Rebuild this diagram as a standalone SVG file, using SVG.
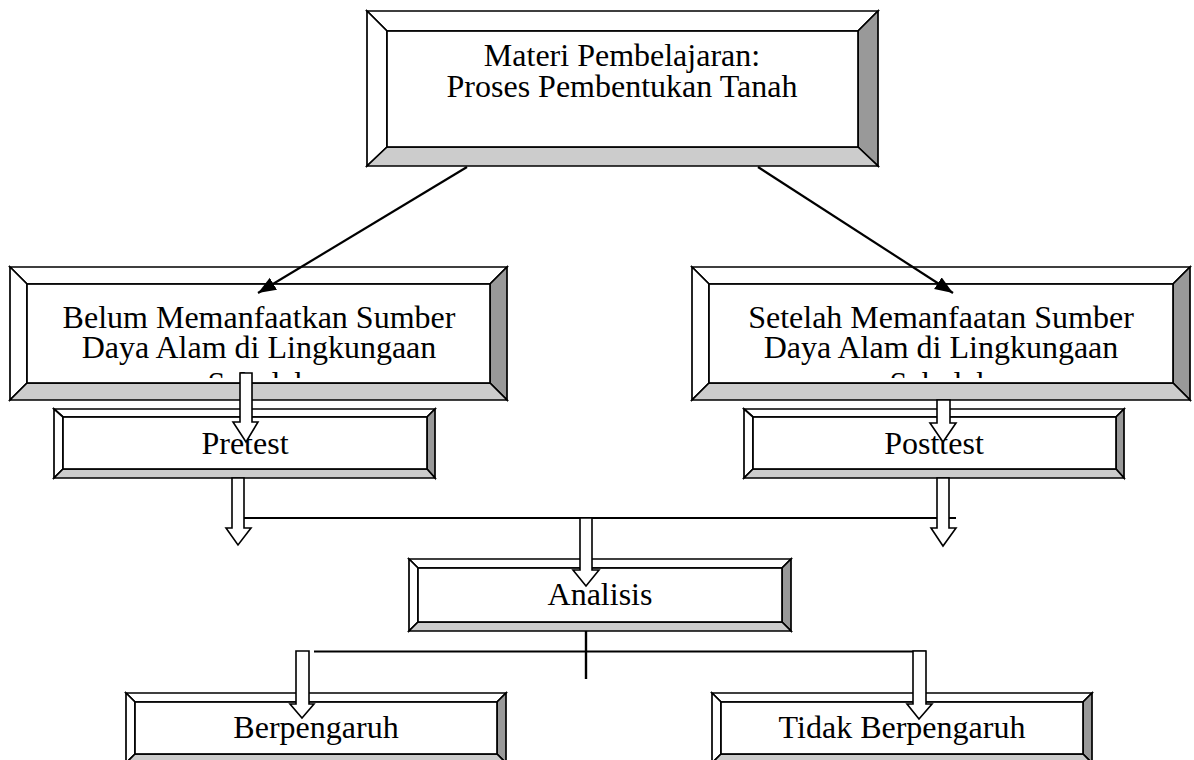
<svg xmlns="http://www.w3.org/2000/svg" width="1194" height="760" viewBox="0 0 1194 760">
<style>
.b{stroke:#000;stroke-width:1.7;stroke-linejoin:miter}
.w{fill:#fff}
.d{fill:#999}
.l{fill:#ccc}
.t{font-family:"Liberation Serif","Times New Roman",serif;font-size:32px;fill:#000;text-anchor:middle}
.c{stroke:#000;stroke-width:1.8;fill:none}
.ba{fill:#fff;stroke:#000;stroke-width:1.6;stroke-linejoin:miter}
</style>
<defs>
<marker id="ah" markerUnits="userSpaceOnUse" markerWidth="20" markerHeight="16" refX="18" refY="7" orient="auto">
<path d="M0,0 L18,7 L0,14 Z" fill="#000"/>
</marker>
<clipPath id="cl1"><rect x="27" y="284" width="463" height="94"/></clipPath>
<clipPath id="cl2"><rect x="709" y="284" width="464" height="94"/></clipPath>
</defs>
<rect width="1194" height="760" fill="#fff"/>

<g id="materi">
<polygon class="b w" points="367,11 878,11 858,31 387,31"/>
<polygon class="b w" points="367,11 387,31 387,147 367,166"/>
<polygon class="b d" points="878,11 878,166 858,147 858,31"/>
<polygon class="b l" points="367,166 878,166 858,147 387,147"/>
<rect class="b w" x="387" y="31" width="471" height="116"/>
<text class="t"><tspan x="622" y="66">Materi Pembelajaran:</tspan><tspan x="622" y="97">Proses Pembentukan Tanah</tspan></text>
</g>

<g id="belum">
<polygon class="b w" points="10,267 507,267 490,284 27,284"/>
<polygon class="b w" points="10,267 27,284 27,383 10,400"/>
<polygon class="b d" points="507,267 507,400 490,383 490,284"/>
<polygon class="b l" points="10,400 507,400 490,383 27,383"/>
<rect class="b w" x="27" y="284" width="463" height="99"/>
<text class="t" clip-path="url(#cl1)"><tspan x="259" y="328">Belum Memanfaatkan Sumber</tspan><tspan x="259" y="358">Daya Alam di Lingkungaan</tspan><tspan x="259" y="394">Sekolah</tspan></text>
</g>

<g id="setelah">
<polygon class="b w" points="692,267 1190,267 1173,284 709,284"/>
<polygon class="b w" points="692,267 709,284 709,383 692,400"/>
<polygon class="b d" points="1190,267 1190,400 1173,383 1173,284"/>
<polygon class="b l" points="692,400 1190,400 1173,383 709,383"/>
<rect class="b w" x="709" y="284" width="464" height="99"/>
<text class="t" clip-path="url(#cl2)"><tspan x="941" y="328">Setelah Memanfaatan Sumber</tspan><tspan x="941" y="358">Daya Alam di Lingkungaan</tspan><tspan x="941" y="394">Sekolah</tspan></text>
</g>

<g id="pretest">
<polygon class="b w" points="54,409 435,409 427,417 63,417"/>
<polygon class="b w" points="54,409 63,417 63,469 54,478"/>
<polygon class="b d" points="435,409 435,478 427,469 427,417"/>
<polygon class="b l" points="54,478 435,478 427,469 63,469"/>
<rect class="b w" x="63" y="417" width="364" height="52"/>
<text class="t" x="245" y="454">Pretest</text>
</g>

<g id="posttest">
<polygon class="b w" points="744,409 1124,409 1116,417 753,417"/>
<polygon class="b w" points="744,409 753,417 753,469 744,478"/>
<polygon class="b d" points="1124,409 1124,478 1116,469 1116,417"/>
<polygon class="b l" points="744,478 1124,478 1116,469 753,469"/>
<rect class="b w" x="753" y="417" width="363" height="52"/>
<text class="t" x="934" y="454">Posttest</text>
</g>

<g id="analisis">
<polygon class="b w" points="409,559 791,559 782,568 418,568"/>
<polygon class="b w" points="409,559 418,568 418,622 409,631"/>
<polygon class="b d" points="791,559 791,631 782,622 782,568"/>
<polygon class="b l" points="409,631 791,631 782,622 418,622"/>
<rect class="b w" x="418" y="568" width="364" height="54"/>
<text class="t" x="600" y="605">Analisis</text>
</g>

<g id="berpengaruh">
<polygon class="b w" points="126,693 506,693 497,702 135,702"/>
<polygon class="b w" points="126,693 135,702 135,754 126,763"/>
<polygon class="b d" points="506,693 506,763 497,754 497,702"/>
<polygon class="b l" points="126,763 506,763 497,754 135,754"/>
<rect class="b w" x="135" y="702" width="362" height="52"/>
<text class="t" x="316" y="738">Berpengaruh</text>
</g>

<g id="tidak">
<polygon class="b w" points="712,693 1092,693 1083,702 721,702"/>
<polygon class="b w" points="712,693 721,702 721,754 712,763"/>
<polygon class="b d" points="1092,693 1092,763 1083,754 1083,702"/>
<polygon class="b l" points="712,763 1092,763 1083,754 721,754"/>
<rect class="b w" x="721" y="702" width="362" height="52"/>
<text class="t" x="902" y="738">Tidak Berpengaruh</text>
</g>

<g id="connectors">
<line class="c" x1="467" y1="167" x2="258" y2="293" marker-end="url(#ah)" style="stroke-width:2.2"/>
<line class="c" x1="758" y1="167" x2="953" y2="293" marker-end="url(#ah)" style="stroke-width:2.2"/>
<line class="c" x1="244" y1="518" x2="956" y2="518"/>
<line class="c" x1="586" y1="631" x2="586" y2="679" style="stroke-width:2.4"/>
<line class="c" x1="314" y1="651.5" x2="926" y2="651.5"/>
<polygon class="ba" points="240,373 252,373 252,422 258,422 246,442 233,422 240,422"/>
<polygon class="ba" points="937,400 950,400 950,423 956,423 943,442 930,423 937,423"/>
<polygon class="ba" points="232,478 244,478 244,528 251,528 238,545 226,528 232,528"/>
<polygon class="ba" points="937,478 949,478 949,528 956,528 943,546 931,528 937,528"/>
<polygon class="ba" points="580,518 592,518 592,570 599,570 586,586 573,570 580,570"/>
<polygon class="ba" points="296,651 309,651 309,704 314,704 302,718 290,704 296,704"/>
<polygon class="ba" points="913,651 926,651 926,704 932,704 919,719 907,704 913,704"/>
</g>
</svg>
